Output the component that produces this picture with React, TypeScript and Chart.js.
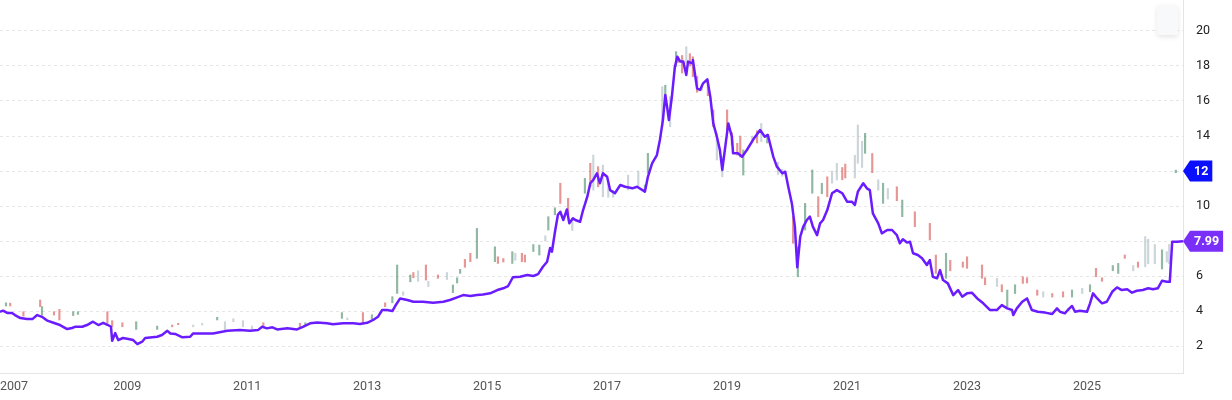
import React, { useEffect, useRef } from "react";
import { Chart, registerables } from "chart.js";

Chart.register(...registerables);

// ---- Data ----
const yearTicks = [2007, 2009, 2011, 2013, 2015, 2017, 2019, 2021, 2023, 2025];
const priceTicks = [2, 4, 6, 8, 10, 12, 14, 16, 18, 20];

const lineDates = [
  2006.88, 2006.93, 2007.0, 2007.08, 2007.13, 2007.22, 2007.33, 2007.42, 2007.5, 2007.58,
  2007.67, 2007.77, 2007.88, 2008.0, 2008.08, 2008.13, 2008.25, 2008.33, 2008.43, 2008.52,
  2008.6, 2008.68, 2008.73, 2008.75, 2008.8, 2008.85, 2008.93, 2009.02, 2009.1, 2009.17,
  2009.25, 2009.3, 2009.42, 2009.5, 2009.58, 2009.67, 2009.72, 2009.8, 2009.92, 2010.05,
  2010.1, 2010.22, 2010.43, 2010.67, 2010.88, 2011.05, 2011.18, 2011.25, 2011.33, 2011.42,
  2011.5, 2011.67, 2011.83, 2011.93, 2012.05, 2012.17, 2012.33, 2012.43, 2012.6, 2012.77,
  2012.88, 2013.0, 2013.1, 2013.18, 2013.25, 2013.33, 2013.42, 2013.47, 2013.55, 2013.67,
  2013.77, 2013.93, 2014.1, 2014.27, 2014.38, 2014.5, 2014.6, 2014.72, 2014.83, 2014.93,
  2015.05, 2015.17, 2015.27, 2015.35, 2015.43, 2015.55, 2015.67, 2015.77, 2015.85, 2015.93,
  2016.0, 2016.05, 2016.08, 2016.13, 2016.18, 2016.22, 2016.27, 2016.33, 2016.37, 2016.43,
  2016.47, 2016.55, 2016.6, 2016.67, 2016.72, 2016.77, 2016.83, 2016.88, 2016.93, 2017.0,
  2017.05, 2017.13, 2017.22, 2017.3, 2017.42, 2017.5, 2017.63, 2017.68, 2017.75, 2017.83,
  2017.88, 2017.93, 2017.97, 2018.0, 2018.03, 2018.08, 2018.13, 2018.17, 2018.22, 2018.27,
  2018.32, 2018.35, 2018.42, 2018.43, 2018.5, 2018.55, 2018.6, 2018.67, 2018.72, 2018.77,
  2018.83, 2018.88, 2018.92, 2018.97, 2019.02, 2019.08, 2019.1, 2019.18, 2019.25, 2019.33,
  2019.43, 2019.55, 2019.63, 2019.68, 2019.77, 2019.83, 2019.92, 2019.97, 2020.02, 2020.08,
  2020.13, 2020.17, 2020.22, 2020.27, 2020.33, 2020.38, 2020.43, 2020.5, 2020.55, 2020.6,
  2020.67, 2020.75, 2020.83, 2020.92, 2021.0, 2021.08, 2021.13, 2021.18, 2021.27, 2021.33,
  2021.38, 2021.43, 2021.52, 2021.58, 2021.67, 2021.75, 2021.83, 2021.88, 2021.93, 2022.0,
  2022.05, 2022.1, 2022.18, 2022.25, 2022.33, 2022.38, 2022.43, 2022.5, 2022.55, 2022.6,
  2022.68, 2022.77, 2022.85, 2022.92, 2023.0, 2023.08, 2023.17, 2023.27, 2023.38, 2023.5,
  2023.58, 2023.67, 2023.75, 2023.77, 2023.83, 2023.92, 2024.0, 2024.08, 2024.18, 2024.3,
  2024.42, 2024.5, 2024.55, 2024.63, 2024.68, 2024.75, 2024.8, 2024.88, 2025.0, 2025.05,
  2025.1, 2025.17, 2025.25, 2025.33, 2025.42, 2025.5, 2025.58, 2025.67, 2025.75, 2025.83,
  2025.93, 2026.02, 2026.1, 2026.18, 2026.25, 2026.33, 2026.38, 2026.42, 2026.5, 2026.6,
];

const lineValues = [
  3.96, 4.02, 3.89, 3.89, 3.77, 3.6, 3.54, 3.54, 3.77, 3.67,
  3.45, 3.33, 3.2, 2.97, 3.03, 3.1, 3.1, 3.2, 3.39, 3.2,
  3.33, 3.2, 3.1, 2.3, 2.74, 2.34, 2.46, 2.4, 2.34, 2.11,
  2.25, 2.46, 2.5, 2.53, 2.63, 2.87, 2.72, 2.69, 2.5, 2.53,
  2.72, 2.72, 2.72, 2.87, 2.91, 2.87, 2.91, 3.1, 3.01, 3.07,
  2.95, 3.01, 2.95, 3.1, 3.3, 3.35, 3.3, 3.24, 3.3, 3.3,
  3.26, 3.33, 3.49, 3.67, 4.06, 4.06, 4.0, 4.3, 4.72, 4.63,
  4.53, 4.53, 4.47, 4.53, 4.63, 4.78, 4.91, 4.86, 4.91, 4.95,
  5.01, 5.2, 5.3, 5.43, 5.93, 5.96, 6.06, 6.0, 6.11, 6.53,
  6.82, 7.6, 7.39, 8.5, 9.5, 9.67, 9.2, 9.8, 9.01, 9.3,
  9.2, 9.1, 9.77, 10.53, 11.3, 11.49, 11.87, 11.3, 11.87, 11.67,
  10.91, 10.73, 11.2, 11.1, 11.01, 11.1, 10.82, 11.67, 12.44, 12.91,
  13.77, 14.91, 16.34, 15.67, 14.91, 16.25, 17.96, 18.53, 18.25, 18.25,
  17.49, 18.25, 18.15, 18.34, 16.72, 16.63, 17.01, 17.24, 16.25, 14.72,
  13.96, 13.2, 12.06, 13.39, 14.72, 13.96, 13.01, 13.01, 12.82, 13.2,
  13.77, 14.34, 13.96, 14.06, 12.82, 12.25, 11.87, 11.96, 11.1, 10.15,
  8.82, 6.5, 8.25, 8.82, 9.2, 9.39, 8.82, 8.34, 9.01, 9.2,
  9.77, 10.73, 10.91, 10.73, 10.25, 10.25, 10.06, 10.82, 11.3, 11.01,
  10.91, 9.58, 9.01, 8.44, 8.63, 8.63, 8.34, 7.87, 8.1, 7.91,
  7.96, 7.3, 7.2, 7.01, 6.63, 6.91, 5.96, 5.87, 6.34, 5.77,
  5.58, 4.91, 5.2, 4.82, 5.01, 5.05, 4.72, 4.44, 4.06, 4.06,
  4.34, 4.15, 4.06, 3.77, 4.15, 4.53, 4.72, 4.06, 3.96, 3.91,
  3.83, 4.15, 3.96, 3.87, 4.06, 4.29, 3.96, 4.02, 3.96, 4.44,
  5.01, 4.72, 4.44, 4.53, 5.1, 5.35, 5.2, 5.24, 5.05, 5.16,
  5.2, 5.3, 5.24, 5.3, 5.73, 5.67, 5.67, 7.96, 7.96, 7.99,
];

// Candles (faint): date, low, high, direction (1 up, -1 down, 0 flat)
const candleDates = [
  2006.98, 2007.05, 2007.27, 2007.55, 2007.58, 2007.78, 2007.87, 2008.1, 2008.18, 2008.67,
  2008.75, 2008.92, 2009.15, 2009.5, 2009.75, 2009.85, 2010.1, 2010.25, 2010.5, 2010.63,
  2010.77, 2010.93, 2011.08, 2011.27, 2011.88, 2011.97, 2012.58, 2012.67, 2012.93, 2013.08,
  2013.3, 2013.42, 2013.5, 2013.6, 2013.72, 2013.77, 2013.85, 2013.98, 2014.02, 2014.18,
  2014.33, 2014.43, 2014.5, 2014.55, 2014.63, 2014.72, 2014.83, 2015.13, 2015.18, 2015.27,
  2015.42, 2015.47, 2015.58, 2015.63, 2015.77, 2015.87, 2015.97, 2016.02, 2016.13, 2016.22,
  2016.35, 2016.42, 2016.63, 2016.72, 2016.77, 2016.85, 2016.93, 2017.02, 2017.1, 2017.35,
  2017.52, 2017.63, 2017.68, 2017.92, 2017.97, 2018.05, 2018.15, 2018.18, 2018.25, 2018.32,
  2018.38, 2018.43, 2018.5, 2018.58, 2018.68, 2018.77, 2018.83, 2018.92, 2019.0, 2019.08,
  2019.17, 2019.22, 2019.27, 2019.42, 2019.5, 2019.57, 2019.67, 2019.85, 2019.92, 2020.1,
  2020.18, 2020.3, 2020.42, 2020.52, 2020.58, 2020.67, 2020.75, 2020.83, 2020.92, 2020.97,
  2021.13, 2021.18, 2021.25, 2021.3, 2021.42, 2021.52, 2021.6, 2021.68, 2021.83, 2021.92,
  2022.13, 2022.38, 2022.48, 2022.65, 2022.72, 2022.93, 2023.0, 2023.25, 2023.3, 2023.5,
  2023.58, 2023.67, 2023.8, 2023.93, 2024.0, 2024.17, 2024.27, 2024.42, 2024.6, 2024.75,
  2024.92, 2025.05, 2025.15, 2025.25, 2025.43, 2025.52, 2025.63, 2025.77, 2025.85, 2025.97,
  2026.02, 2026.13, 2026.25, 2026.33, 2026.37, 2026.48,
];
const candleLows = [
  4.29, 4.29, 3.71, 4.25, 3.77, 3.77, 3.49, 3.74, 3.81, 3.3,
  3.1, 3.1, 2.95, 2.95, 3.1, 3.22, 3.1, 3.2, 3.49, 2.91,
  3.39, 3.1, 2.95, 3.1, 3.01, 3.2, 3.58, 3.5, 3.33, 3.56,
  4.25, 4.47, 5.01, 4.9, 5.67, 5.9, 5.7, 5.77, 5.4, 5.87,
  5.8, 5.05, 5.6, 6.15, 6.5, 6.82, 7.01, 6.82, 6.72, 6.8,
  6.72, 6.9, 6.82, 6.8, 7.4, 7.2, 8.0, 8.63, 9.5, 10.15,
  9.49, 8.6, 10.73, 11.1, 10.91, 11.1, 10.53, 10.5, 10.5, 10.91,
  11.1, 10.8, 11.87, 14.53, 16.1, 14.53, 17.96, 18.2, 17.6, 18.15,
  18.0, 17.39, 16.5, 16.6, 16.3, 14.53, 12.63, 11.67, 14.34, 13.5,
  12.91, 12.8, 11.77, 13.6, 13.6, 13.68, 13.6, 11.8, 11.7, 7.87,
  5.96, 8.63, 10.73, 9.39, 10.7, 10.53, 11.3, 11.49, 11.5, 11.6,
  11.6, 12.44, 12.2, 13.01, 11.9, 10.9, 10.15, 10.4, 10.3, 9.39,
  8.82, 8.06, 6.15, 5.87, 6.3, 6.5, 6.44, 5.87, 5.5, 5.4,
  5.1, 4.25, 5.0, 5.58, 5.6, 4.9, 4.8, 4.8, 4.8, 4.8,
  5.0, 5.1, 5.96, 5.7, 6.3, 6.15, 7.01, 6.3, 6.5, 6.53,
  6.7, 6.7, 6.4, 6.8, 6.7, 11.9,
];
const candleHighs = [
  4.47, 4.45, 3.96, 4.63, 4.25, 3.96, 4.1, 3.96, 3.96, 3.96,
  3.45, 3.33, 3.39, 3.14, 3.2, 3.3, 3.2, 3.3, 3.64, 3.39,
  3.56, 3.45, 3.14, 3.33, 3.3, 3.33, 3.91, 3.6, 3.91, 3.79,
  4.47, 4.82, 6.63, 5.1, 6.06, 6.2, 6.3, 6.63, 5.7, 6.06,
  6.2, 5.49, 5.9, 6.38, 6.95, 7.3, 8.72, 7.67, 7.1, 7.0,
  7.39, 7.3, 7.3, 7.2, 7.8, 7.77, 8.3, 9.39, 9.9, 11.3,
  10.44, 9.2, 11.58, 12.44, 12.91, 12.25, 12.34, 11.3, 10.9, 11.77,
  12.0, 11.2, 13.01, 16.82, 16.9, 16.25, 18.82, 18.5, 18.6, 19.1,
  18.7, 18.53, 17.4, 16.9, 17.2, 15.49, 14.15, 12.82, 15.49, 14.2,
  13.58, 14.0, 13.2, 14.0, 14.3, 14.72, 14.1, 12.5, 12.1, 9.39,
  7.67, 10.15, 12.06, 10.53, 11.3, 11.67, 12.0, 12.44, 12.2, 12.4,
  12.9, 14.63, 13.7, 14.15, 13.0, 11.5, 11.3, 11.0, 11.1, 10.34,
  9.67, 9.01, 7.2, 7.3, 6.9, 6.8, 7.1, 6.63, 5.9, 5.87,
  5.5, 5.2, 5.5, 5.96, 5.9, 5.2, 5.1, 5.0, 5.1, 5.2,
  5.3, 5.5, 6.44, 5.9, 6.6, 6.72, 7.2, 6.6, 6.8, 8.25,
  8.1, 7.8, 7.5, 7.4, 7.8, 12.05,
];
const candleDirs = [
  1, -1, -1, -1, 1, -1, -1, 1, 1, -1,
  -1, -1, 1, 1, -1, -1, 0, 0, 1, 0,
  0, 0, 0, -1, -1, 1, 1, 0, -1, 1,
  -1, 1, 1, 0, 1, -1, 0, -1, 0, -1,
  0, 1, 1, 1, -1, -1, 1, 1, -1, -1,
  1, 0, -1, -1, 1, 1, 0, 1, 1, -1,
  -1, 0, 1, -1, 0, -1, 0, 0, 0, 0,
  0, 1, 1, 0, 1, 0, 1, -1, -1, 0,
  -1, -1, -1, 0, -1, -1, 0, 0, -1, -1,
  -1, -1, 1, 0, -1, 0, 1, 0, 0, -1,
  1, 1, 1, -1, 1, -1, 0, 0, -1, -1,
  0, 0, 0, 1, -1, 0, 1, 0, -1, 1,
  -1, -1, -1, 1, -1, -1, -1, -1, -1, 0,
  -1, 1, 1, -1, -1, -1, 0, -1, -1, 1,
  0, 1, -1, -1, 1, 1, -1, 0, -1, 0,
  0, 0, 1, 0, 0, 1,
];

const priceTagValues = [12, 7.99];
const priceTagTexts = ["12", "7.99"];
const priceTagColors = ["#0a0fff", "#7a2ff9"];

const LINE_COLOR = "#6b1cff";
const UP = "rgba(52, 125, 88, 0.55)";
const DOWN = "rgba(214, 80, 76, 0.6)";
const FLAT = "rgba(170, 185, 192, 0.6)";
const FONT = "Roboto, 'Liberation Sans', sans-serif";

export default function App() {
  const ref = useRef<HTMLCanvasElement>(null);

  useEffect(() => {
    if (!ref.current) return;
    Chart.defaults.font.family = FONT;

    const lineData = lineDates.map((d, i) => ({ x: d, y: lineValues[i] }));
    const candleData = candleDates.map((d, i) => ({ x: d, y: [candleLows[i], candleHighs[i]] }));
    const candleColors = candleDirs.map((d) => (d > 0 ? UP : d < 0 ? DOWN : FLAT));

    // Year labels under the x axis, kept inside the canvas at the left edge
    const yearLabels = {
      id: "yearLabels",
      afterDraw(chart: any) {
        const { ctx, scales } = chart;
        const x = scales.x;
        ctx.save();
        ctx.font = `12.5px ${FONT}`;
        ctx.fillStyle = "#555555";
        ctx.textBaseline = "middle";
        ctx.textAlign = "left";
        const cy = x.top + 14;
        yearTicks.forEach((v) => {
          const text = String(v);
          const w = ctx.measureText(text).width;
          const px = x.getPixelForValue(v);
          const left = Math.max(0, px - w / 2);
          ctx.fillText(text, left, cy);
        });
        ctx.restore();
      },
    };

    const priceTags = {
      id: "priceTags",
      afterDraw(chart: any) {
        const { ctx, chartArea, scales } = chart;
        const y = scales.y;
        ctx.save();
        ctx.font = `bold 12.5px ${FONT}`;
        priceTagValues.forEach((v, i) => {
          const cy = y.getPixelForValue(v);
          const tip = chartArea.right;
          const left = tip + 7;
          const text = priceTagTexts[i];
          const w = ctx.measureText(text).width + 8;
          const h = 21;
          ctx.beginPath();
          ctx.moveTo(tip, cy);
          ctx.lineTo(left, cy - h / 2);
          ctx.lineTo(left + w, cy - h / 2);
          ctx.lineTo(left + w, cy + h / 2);
          ctx.lineTo(left, cy + h / 2);
          ctx.closePath();
          ctx.fillStyle = priceTagColors[i];
          ctx.fill();
          ctx.fillStyle = "#ffffff";
          ctx.textAlign = "left";
          ctx.textBaseline = "middle";
          ctx.fillText(text, left + 4, cy + 0.5);
        });
        ctx.restore();
      },
    };

    const chart = new Chart(ref.current, {
      type: "line",
      data: {
        datasets: [
          {
            type: "line",
            data: lineData,
            borderColor: LINE_COLOR,
            borderWidth: 2.5,
            pointRadius: 0,
            tension: 0,
            borderJoinStyle: "round",
            order: 0,
          } as any,
          {
            type: "bar",
            data: candleData,
            backgroundColor: candleColors,
            barThickness: 1.5,
            order: 1,
          } as any,
        ],
      },
      options: {
        animation: false,
        responsive: true,
        maintainAspectRatio: false,
        layout: { padding: 0 },
        plugins: { legend: { display: false }, tooltip: { enabled: false } },
        scales: {
          x: {
            type: "linear",
            min: 2006.88,
            max: 2026.6,
            offset: false,
            grid: { display: false, drawTicks: false },
            border: { display: true, color: "#e4e4e4", width: 1 },
            ticks: { display: false },
            afterBuildTicks: (s: any) => {
              s.ticks = yearTicks.map((v) => ({ value: v }));
            },
            afterFit: (s: any) => {
              s.height = 27;
              s.paddingLeft = 0;
              s.paddingRight = 0;
            },
          },
          y: {
            position: "right",
            min: 0.46,
            max: 21.77,
            grid: { color: "#e6e6e6", lineWidth: 1, drawTicks: false },
            border: { display: true, color: "#e4e4e4", width: 1, dash: [3, 3] },
            ticks: {
              padding: 13,
              color: "#222222",
              font: { size: 12.5 },
              callback: (v: any) => String(v),
            },
            afterBuildTicks: (s: any) => {
              s.ticks = priceTicks.map((v) => ({ value: v }));
            },
            afterFit: (s: any) => {
              s.width = 49;
              s.paddingTop = 0;
              s.paddingBottom = 0;
            },
          },
        },
      },
      plugins: [yearLabels, priceTags],
    } as any);

    return () => chart.destroy();
  }, []);

  return (
    <>
      <div
        style={{
          position: "fixed",
          left: 0,
          top: 0,
          width: 1232,
          height: 400,
          background: "#ffffff",
        }}
      >
        <canvas ref={ref} />
      </div>
      <div
        style={{
          position: "fixed",
          left: 1157,
          top: 5,
          width: 21,
          height: 30,
          background: "#f7f9fb",
          borderRadius: 2,
          boxShadow: "0 2px 5px rgba(0,0,0,0.10)",
        }}
      />
    </>
  );
}
